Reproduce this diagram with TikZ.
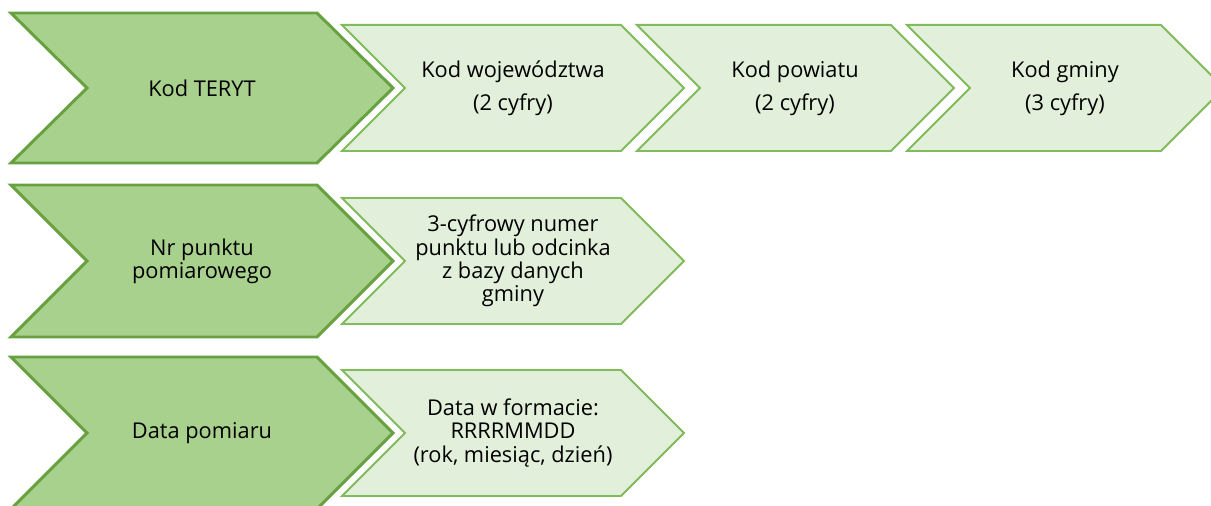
\documentclass[tikz,border=0pt]{standalone}
\usepackage{fontspec}
\setmainfont{Open Sans}
\usepackage{tikz}
\definecolor{cDark}  {HTML}{A9D18E}
\definecolor{cDarkLn}{HTML}{68A140}
\definecolor{cLight} {HTML}{E2EFDA}
\definecolor{cLightLn}{HTML}{80BB5C}
\begin{document}
\begin{tikzpicture}[
  x=0.02cm, y=-0.02cm,
  headchev/.style={draw=cDarkLn, fill=cDark, line width=3pt*0.5669, line join=miter},
  partchev/.style={draw=cLightLn, fill=cLight, line width=2pt*0.5669, line join=miter},
  txt/.style={font=\fontsize{12.4}{13.2}\selectfont, align=center, text=black, inner sep=0pt},
  wide/.style={font=\fontsize{12.4}{18.7}\selectfont},
]
\useasboundingbox (0,0) rectangle (1211,506);

%% ── Row 1: Kod TERYT ─────────────────────────────────────────────────
\draw[headchev] (11,13) -- (317,13) -- (393,88) -- (317,163) -- (11,163) -- (87,88) -- cycle;
\draw[partchev] (342,25) -- (621,25) -- (684,88) -- (621,151) -- (342,151) -- (405,88) -- cycle;
\draw[partchev] (637,25) -- (891,25) -- (954,88) -- (891,151) -- (637,151) -- (700,88) -- cycle;
\draw[partchev] (907,25) -- (1161,25) -- (1224,88) -- (1161,151) -- (907,151) -- (970,88) -- cycle;

\node[txt] (teryt) at (202,88) {Kod TERYT};
\node[txt, wide] (woj) at (513,88) {Kod województwa\\(2 cyfry)};
\node[txt, wide] (pow) at (795,88) {Kod powiatu\\(2 cyfry)};
\node[txt, wide] (gmi) at (1065,88) {Kod gminy\\(3 cyfry)};

%% ── Row 2: Nr punktu pomiarowego ─────────────────────────────────────
\draw[headchev] (11,185) -- (317,185) -- (393,261) -- (317,337) -- (11,337) -- (87,261) -- cycle;
\draw[partchev] (342,198) -- (621,198) -- (684,261) -- (621,324) -- (342,324) -- (405,261) -- cycle;

\node[txt] (punkt) at (202,261) {Nr punktu\\pomiarowego};
\node[txt] (numer) at (513,261) {3-cyfrowy numer\\punktu lub odcinka\\z bazy danych\\gminy};

%% ── Row 3: Data pomiaru ──────────────────────────────────────────────
\draw[headchev] (11,357) -- (317,357) -- (393,433) -- (317,509) -- (11,509) -- (87,433) -- cycle;
\draw[partchev] (342,370) -- (621,370) -- (684,433) -- (621,496) -- (342,496) -- (405,433) -- cycle;

\node[txt] (data) at (202,433) {Data pomiaru};
\node[txt] (format) at (513,433) {Data w formacie:\\RRRRMMDD\\(rok, miesiąc, dzień)};

\end{tikzpicture}
\end{document}
